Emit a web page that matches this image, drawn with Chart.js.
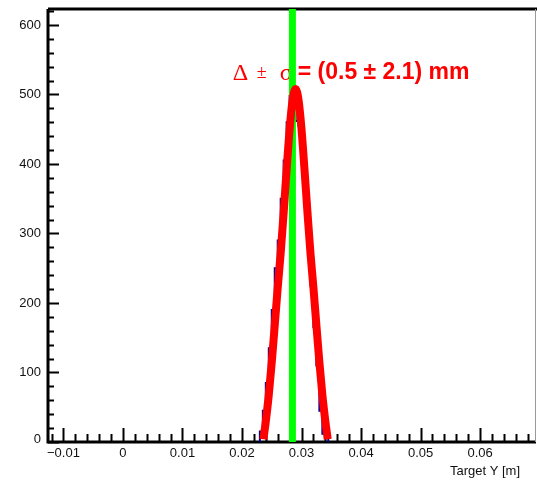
<!DOCTYPE html>
<html>
<head>
<meta charset="utf-8">
<script src="https://cdn.jsdelivr.net/npm/chart.js@4.4.0/dist/chart.umd.min.js"></script>
<style>
    html, body { margin: 0; padding: 0; background: #fff; }
    #wrap { width: 537px; height: 484px; }
</style>
</head>
<body>
<div id="wrap"><canvas id="myChart" width="537" height="484"></canvas></div>
<script>
// histogram: bin edges [m] and counts per bin
const binEdges = [0.0230, 0.0235, 0.0240, 0.0245, 0.0250, 0.0255, 0.0260, 0.0265, 0.0270,
                  0.0275, 0.0280, 0.0285, 0.0290, 0.0295, 0.0300, 0.0305, 0.0310, 0.0315, 0.0320,
                  0.0325, 0.0330, 0.0335, 0.0340, 0.0345];
const binCounts = [4, 15, 45, 85, 135, 190, 250, 290,
                   350, 405, 460, 498, 472, 462, 455, 402, 368, 318,
                   225, 165, 110, 45, 12];

// gaussian fit
const fitX = [0.0236, 0.0240, 0.0245, 0.0250, 0.0255, 0.0260, 0.0265, 0.0270, 0.0275, 0.0280, 0.0285, 0.0290,
              0.0295, 0.0300, 0.0305, 0.0310, 0.0315, 0.0320, 0.0325, 0.0330, 0.0335, 0.0340, 0.0344];
const fitY = [4, 30, 68, 115, 168, 222, 272, 330, 392, 450, 492, 508,
              492, 450, 392, 330, 272, 222, 168, 115, 68, 30, 4];

// true target position (green marker)
const trueY = 0.02847;

const xTicks = [-0.01, 0, 0.01, 0.02, 0.03, 0.04, 0.05, 0.06];
const xTickLabels = ["\u22120.01", "0", "0.01", "0.02", "0.03", "0.04", "0.05", "0.06"];
const yTicks = [0, 100, 200, 300, 400, 500, 600];
const yTickLabels = ["0", "100", "200", "300", "400", "500", "600"];
const xTitle = "Target Y [m]";
const fitLabel = ["\u0394", "\u00b1", "\u03c3", "= (0.5 \u00b1 2.1) mm"];

const xMin = -0.0126, xMax = 0.0694, yMax = 623;

const ctx = document.getElementById("myChart").getContext("2d");

function histPoints() {
    const pts = [{ x: binEdges[0], y: 0 }];
    binCounts.forEach((c, i) => pts.push({ x: binEdges[i], y: c }));
    pts.push({ x: binEdges[binEdges.length - 1], y: binCounts[binCounts.length - 1] });
    pts.push({ x: binEdges[binEdges.length - 1], y: 0 });
    return pts;
}

// ROOT style frame: thick axes, inward ticks
function drawAxes(chart) {
    const { ctx, chartArea: a, scales: { x, y } } = chart;
    ctx.save();
    ctx.strokeStyle = "#000";
    ctx.lineWidth = 2;
    ctx.beginPath();
    for (let i = 0; i * 20 <= yMax; i++) {
        const py = Math.round(y.getPixelForValue(i * 20)) + 0.5;
        const len = i % 5 === 0 ? 11 : 6;
        ctx.moveTo(a.left, py);
        ctx.lineTo(a.left + len, py);
    }
    for (let i = -6; i <= 34; i++) {
        const px = Math.round(x.getPixelForValue(i * 0.002)) + 0.5;
        const len = i % 5 === 0 ? 14 : 8;
        ctx.moveTo(px, a.bottom);
        ctx.lineTo(px, a.bottom - len);
    }
    ctx.stroke();

    ctx.lineWidth = 3;
    ctx.beginPath();
    ctx.moveTo(a.left, a.top);
    ctx.lineTo(a.left, a.bottom);
    ctx.lineTo(a.right, a.bottom);
    ctx.moveTo(a.left, a.top);
    ctx.lineTo(chart.width, a.top);
    ctx.stroke();

    ctx.strokeStyle = "#999";
    ctx.lineWidth = 1;
    ctx.beginPath();
    ctx.moveTo(a.right - 0.5, a.top);
    ctx.lineTo(a.right - 0.5, a.bottom);
    ctx.stroke();

    ctx.fillStyle = "#111";
    ctx.font = "13px 'Liberation Sans', Arial, sans-serif";
    ctx.textAlign = "right";
    ctx.textBaseline = "middle";
    yTicks.forEach((v, i) => {
        ctx.fillText(yTickLabels[i], a.left - 7, y.getPixelForValue(v) - (v === 0 ? 3 : 0));
    });
    ctx.textAlign = "center";
    xTicks.forEach((v, i) => {
        ctx.fillText(xTickLabels[i], x.getPixelForValue(v), a.bottom + 11);
    });
    ctx.textAlign = "right";
    ctx.fillText(xTitle, a.right - 16, a.bottom + 29);
    ctx.restore();
}

function drawFitLabel(chart) {
    const { ctx, scales: { x, y } } = chart;
    const x0 = x.getPixelForValue(0.01844);
    const base = y.getPixelForValue(522);
    ctx.save();
    ctx.fillStyle = "#ff0000";
    ctx.textBaseline = "alphabetic";
    ctx.textAlign = "left";
    ctx.font = "24px 'Liberation Serif', serif";
    ctx.fillText(fitLabel[0], x0, base + 1);
    ctx.font = "18px 'Liberation Serif', serif";
    ctx.fillText(fitLabel[1], x0 + 24, base - 1);
    ctx.font = "24px 'Liberation Serif', serif";
    ctx.fillText(fitLabel[2], x0 + 47, base + 1);
    ctx.font = "bold 23px 'Liberation Sans', Arial, sans-serif";
    ctx.fillText(fitLabel[3], x0 + 65, base);
    ctx.restore();
}

const rootFrame = {
    id: "rootFrame",
    beforeDatasetsDraw(chart) {
        drawAxes(chart);
        drawFitLabel(chart);
    }
};

const myChart = new Chart(ctx, {
    type: "line",
    data: {
        datasets: [
            {
                label: "Target Y",
                data: histPoints(),
                stepped: "after",
                borderColor: "#000099",
                borderWidth: 2,
                fill: false,
                pointRadius: 0,
                order: 3
            },
            {
                label: "true",
                data: [{ x: trueY, y: 0 }, { x: trueY, y: yMax }],
                borderColor: "#00ff00",
                borderWidth: 7,
                borderCapStyle: "butt",
                pointRadius: 0,
                clip: 0,
                order: 2
            },
            {
                label: "fit",
                data: fitX.map((v, i) => ({ x: v, y: fitY[i] })),
                borderColor: "#ff0000",
                borderWidth: 8,
                borderCapStyle: "butt",
                cubicInterpolationMode: "monotone",
                pointRadius: 0,
                order: 1
            }
        ]
    },
    options: {
        responsive: false,
        animation: false,
        layout: { padding: { left: 48, right: 1, top: 9, bottom: 42 } },
        plugins: { legend: { display: false }, tooltip: { enabled: false } },
        scales: {
            x: { type: "linear", min: xMin, max: xMax, display: false },
            y: { type: "linear", min: 0, max: yMax, display: false }
        }
    },
    plugins: [rootFrame]
});
</script>
</body>
</html>
